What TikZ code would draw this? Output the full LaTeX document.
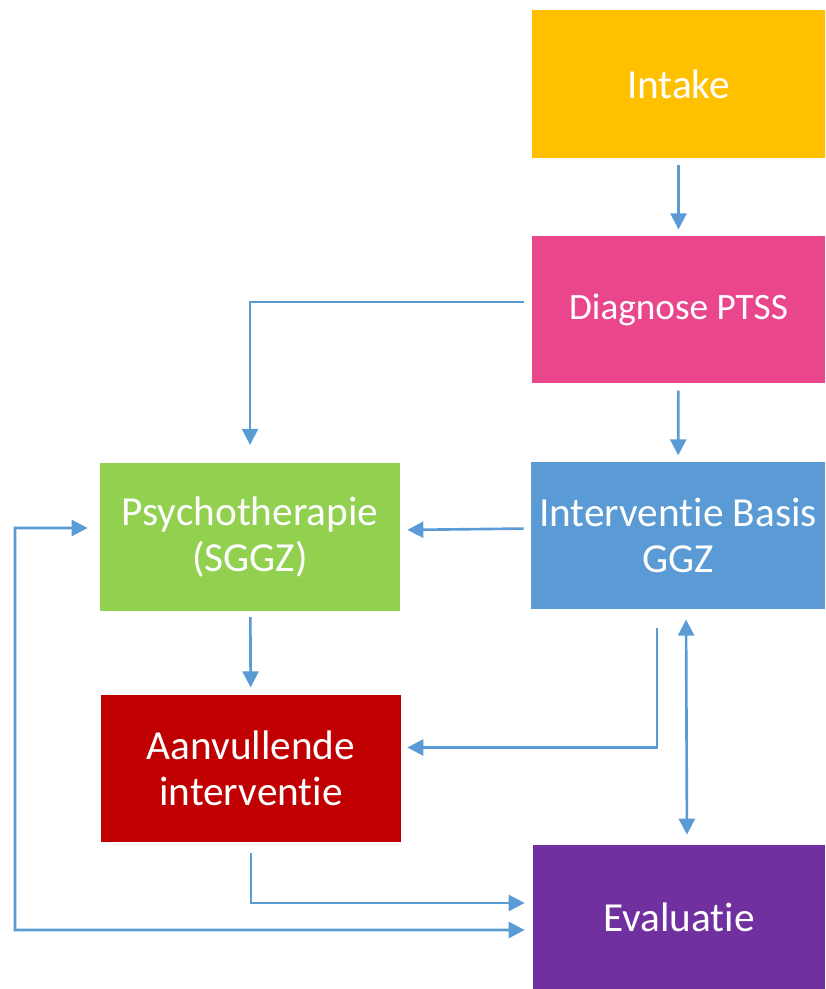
\documentclass[tikz,border=0pt]{standalone}
\usepackage{fontspec}
\setmainfont[Ligatures=NoCommon]{Carlito}
\usetikzlibrary{arrows.meta}

\definecolor{intakecol}{HTML}{FFC000}
\definecolor{diagcol}{HTML}{EA468C}
\definecolor{basiscol}{HTML}{5B9BD5}
\definecolor{psychocol}{HTML}{92D050}
\definecolor{extracol}{HTML}{C00000}
\definecolor{evalcol}{HTML}{7030A0}
\definecolor{linecol}{HTML}{5B9BD5}

\tikzset{
    stagebox/.style={rectangle, inner sep=0pt, minimum height=2.95cm,
        text=white, align=center, font=\fontsize{23.5}{26.5}\selectfont},
    flow/.style={draw=linecol, line width=1.5pt,
        -{Triangle[length=0.32cm, width=0.32cm]}}
}

\begin{document}
\begin{tikzpicture}
        \useasboundingbox (0, 0) rectangle (16.5, 19.78);

        % Draw the boxes of the care path
        \node[stagebox, fill=intakecol, minimum width=5.86cm] (intake) at (13.57, 18.1) {Intake};
        \node[stagebox, fill=diagcol, minimum width=5.86cm, font=\fontsize{21.2}{25}\selectfont] (diagnose) at (13.57, 13.59) {Diagnose PTSS};
        \node[stagebox, fill=basiscol, minimum width=5.88cm] (basis) at (13.56, 9.07) {Interventie Basis\\GGZ};
        \node[stagebox, fill=psychocol, minimum width=6cm] (psycho) at (5.0, 9.04) {Psychotherapie\\(SGGZ)};
        \node[stagebox, fill=extracol, minimum width=6cm] (extra) at (5.02, 4.41) {Aanvullende\\interventie};
        \node[stagebox, fill=evalcol, minimum width=5.84cm, minimum height=2.88cm] (eval) at (13.58, 1.44) {Evaluatie};

        % Corner of the long return line
        \coordinate (loopleft) at (0.3, 9.22);

        % Draw the arrows between the boxes
        \draw[flow, shorten <=0.14cm, shorten >=0.12cm] (intake) -- (diagnose);
        \draw[flow, shorten <=0.14cm, shorten >=0.12cm] (diagnose) -- (basis);
        \draw[flow, shorten <=0.16cm, shorten >=0.36cm] ([yshift=0.15cm]diagnose.west) -| (psycho.north);
        \draw[flow, shorten <=0.14cm, shorten >=0.14cm] ([yshift=0.14cm]basis.west) -- ([yshift=0.14cm]psycho.east);
        \draw[flow, shorten <=0.12cm, shorten >=0.14cm] (psycho) -- (extra);
        \draw[flow, shorten <=0.36cm, shorten >=0.12cm] ([xshift=-0.42cm]basis.south) |- ([yshift=0.42cm]extra.east);
        \draw[flow, {Triangle[length=0.32cm, width=0.32cm]}-{Triangle[length=0.32cm, width=0.32cm]}, shorten <=0.2cm, shorten >=0.2cm] ([xshift=0.16cm]basis.south) -- ([xshift=0.16cm]eval.north);
        \draw[flow, shorten <=0.2cm, shorten >=0.16cm] (extra.south) |- ([yshift=0.28cm]eval.west);

        % Long line from Evaluatie back to Psychotherapie
        \draw[flow, {Triangle[length=0.32cm, width=0.32cm]}-{Triangle[length=0.32cm, width=0.32cm]}, shorten <=0.24cm, shorten >=0.16cm] ([yshift=0.18cm]psycho.west) -- (loopleft) |- ([yshift=-0.26cm]eval.west);
    \end{tikzpicture}
\end{document}
